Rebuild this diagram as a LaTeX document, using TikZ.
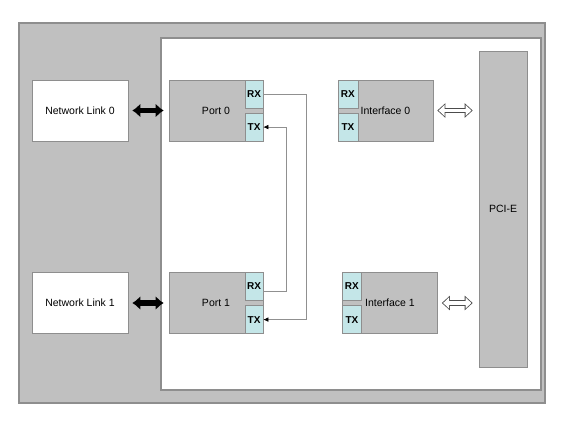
\documentclass[tikz,border=0pt]{standalone}
\usepackage{fontspec}
\setmainfont{Liberation Sans}
\usetikzlibrary{arrows.meta,positioning}
\definecolor{boardgray}{HTML}{C0C0C0}
\definecolor{rimgray}{HTML}{8E8E8E}
\definecolor{tabcyan}{HTML}{C4E6E8}
\definecolor{wiregray}{HTML}{909090}
\tikzset{
  board/.style   = {draw=rimgray, line width=1.5pt, fill=boardgray, inner sep=0pt},
  fpga/.style    = {draw=rimgray, line width=1.5pt, fill=white, inner sep=0pt},
  netlink/.style = {draw=rimgray, semithick, fill=white, minimum width=96pt, minimum height=61pt},
  block/.style   = {draw=rimgray, semithick, fill=boardgray, minimum width=95pt, minimum height=61pt, inner sep=0pt},
  tab/.style     = {draw=rimgray, thin, fill=tabcyan, minimum width=18pt, minimum height=28pt, inner sep=0pt, font=\bfseries},
  wide/.style    = {{Latex[length=8pt,width=14pt]}-{Latex[length=8pt,width=14pt]}, line width=5.5pt, shorten <=4pt, shorten >=5pt},
  hollowrim/.style  = {{Triangle[length=8pt,width=14pt]}-{Triangle[length=8pt,width=14pt]}, draw=black!70, line width=5.2pt, shorten <=4pt, shorten >=6pt},
  hollowcore/.style = {{Triangle[length=5.8pt,width=11pt]}-{Triangle[length=5.8pt,width=11pt]}, draw=white, line width=3.4pt, shorten <=5.4pt, shorten >=7.4pt},
  wire/.style    = {-{Latex[length=5pt,width=4.5pt,color=black]}, draw=wiregray, semithick}
}

\begin{document}
\begin{tikzpicture}[x=1pt, y=-1pt, font=\fontsize{10.5}{12}\selectfont]
  \useasboundingbox (0,0) rectangle (564,423);
  \node[board, minimum width=526pt, minimum height=380pt] (card) at (282,213) {};
  \node[fpga, minimum width=380pt, minimum height=352pt] (chip) at (351,214) {};

  \node[netlink] (link0) at (80,110.5) {Network Link 0};
  \node[netlink] (link1) at (80,303) {Network Link 1};

  \node[block, minimum width=94pt] (port0) at (216,110.5) {Port 0};
  \node[tab, anchor=north east] (rx0) at (port0.north east) {RX};
  \node[tab, anchor=south east] (tx0) at (port0.south east) {TX};
  \node[block, minimum width=94pt] (port1) at (216,303) {Port 1};
  \node[tab, anchor=north east] (rx1) at (port1.north east) {RX};
  \node[tab, anchor=south east] (tx1) at (port1.south east) {TX};

  \node[block] (if0) at (385.5,110.5) {Interface 0};
  \node[tab, minimum width=20pt, anchor=north west] (ifrx0) at (if0.north west) {RX};
  \node[tab, minimum width=20pt, anchor=south west] (iftx0) at (if0.south west) {TX};
  \node[block] (if1) at (390,303) {Interface 1};
  \node[tab, minimum width=19pt, anchor=north west] (ifrx1) at (if1.north west) {RX};
  \node[tab, minimum width=19pt, anchor=south west] (iftx1) at (if1.south west) {TX};

  \node[block, minimum width=48pt, minimum height=316pt] (pcie) at (503,209) {PCI-E};

  % links to ports
  \draw[wide] (link0) -- (port0);
  \draw[wide] (link1) -- (port1);
  % interfaces to the bus
  \draw[hollowrim] (if0.east) -- (if0.east -| pcie.west);
  \draw[hollowcore] (if0.east) -- (if0.east -| pcie.west);
  \draw[hollowrim] (if1.east) -- (if1.east -| pcie.west);
  \draw[hollowcore] (if1.east) -- (if1.east -| pcie.west);
  % loopback between the ports
  \draw[wire] (rx0.east) -- ++(43,0) |- (tx1.east);
  \draw[wire] ([yshift=-4.5pt]rx1.east) -- ++(23,0) |- (tx0.east);
\end{tikzpicture}
\end{document}
